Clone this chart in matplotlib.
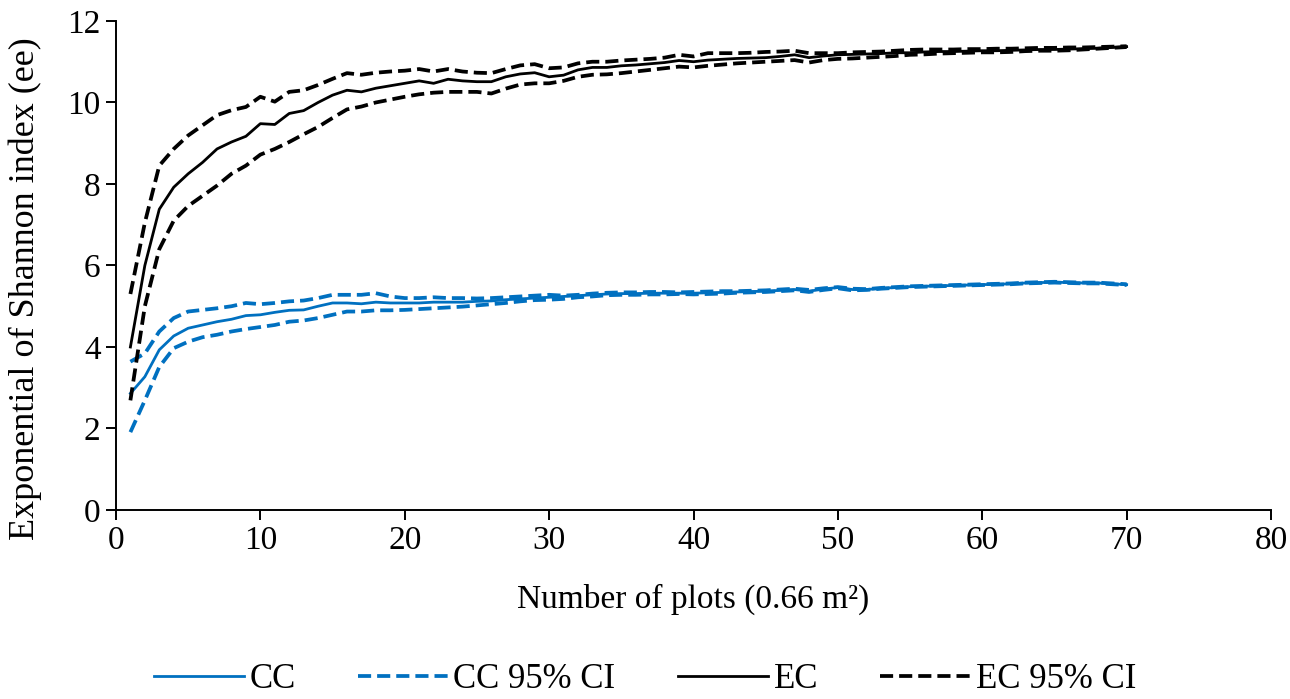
import matplotlib
matplotlib.use("Agg")
import matplotlib.pyplot as plt

plt.rcParams["font.family"] = ["Liberation Serif", "DejaVu Serif"]

# number of plots sampled
plots = list(range(1, 71))

ec_mean = [4.00, 6.00, 7.38, 7.92, 8.25, 8.53, 8.86, 9.03, 9.17, 9.48,
           9.46, 9.73, 9.80, 10.00, 10.18, 10.30, 10.26, 10.35, 10.41, 10.47,
           10.53, 10.47, 10.57, 10.53, 10.51, 10.51, 10.63, 10.70, 10.73, 10.63,
           10.67, 10.80, 10.86, 10.86, 10.90, 10.92, 10.95, 10.98, 11.03, 11.00,
           11.04, 11.06, 11.08, 11.09, 11.10, 11.13, 11.17, 11.10, 11.14, 11.17,
           11.18, 11.19, 11.20, 11.22, 11.22, 11.24, 11.25, 11.25, 11.26, 11.27,
           11.27, 11.28, 11.29, 11.30, 11.30, 11.31, 11.32, 11.33, 11.35, 11.37]
ec_upper = [5.30, 7.05, 8.45, 8.86, 9.19, 9.44, 9.69, 9.81, 9.89, 10.14,
            10.02, 10.26, 10.30, 10.43, 10.58, 10.72, 10.68, 10.73, 10.76, 10.78,
            10.82, 10.76, 10.82, 10.76, 10.73, 10.72, 10.82, 10.91, 10.94, 10.84,
            10.86, 10.96, 11.00, 11.00, 11.03, 11.05, 11.07, 11.10, 11.17, 11.13,
            11.21, 11.21, 11.21, 11.22, 11.24, 11.25, 11.27, 11.21, 11.21, 11.21,
            11.23, 11.24, 11.25, 11.27, 11.29, 11.30, 11.30, 11.30, 11.31, 11.31,
            11.32, 11.32, 11.33, 11.34, 11.34, 11.35, 11.35, 11.36, 11.37, 11.38]
ec_lower = [2.69, 5.00, 6.40, 7.10, 7.46, 7.71, 7.96, 8.25, 8.45, 8.72,
            8.86, 9.03, 9.22, 9.40, 9.62, 9.83, 9.90, 10.00, 10.07, 10.14,
            10.20, 10.24, 10.26, 10.26, 10.26, 10.22, 10.34, 10.44, 10.47, 10.47,
            10.53, 10.63, 10.68, 10.69, 10.72, 10.76, 10.80, 10.84, 10.88, 10.86,
            10.90, 10.93, 10.96, 10.98, 11.00, 11.02, 11.04, 10.98, 11.04, 11.07,
            11.08, 11.10, 11.12, 11.14, 11.17, 11.18, 11.20, 11.21, 11.22, 11.23,
            11.23, 11.24, 11.26, 11.27, 11.27, 11.28, 11.30, 11.32, 11.34, 11.36]

cc_mean = [2.86, 3.27, 3.93, 4.27, 4.46, 4.54, 4.62, 4.68, 4.77, 4.79,
           4.85, 4.90, 4.91, 5.00, 5.08, 5.08, 5.06, 5.10, 5.08, 5.08,
           5.08, 5.10, 5.10, 5.10, 5.12, 5.13, 5.16, 5.18, 5.20, 5.22,
           5.24, 5.26, 5.28, 5.30, 5.31, 5.31, 5.32, 5.32, 5.32, 5.32,
           5.33, 5.34, 5.35, 5.36, 5.37, 5.39, 5.41, 5.37, 5.42, 5.46,
           5.41, 5.41, 5.44, 5.46, 5.48, 5.49, 5.50, 5.51, 5.52, 5.53,
           5.54, 5.55, 5.57, 5.58, 5.59, 5.58, 5.57, 5.57, 5.55, 5.53]
cc_upper = [3.64, 3.84, 4.38, 4.71, 4.87, 4.91, 4.95, 5.00, 5.08, 5.05,
            5.08, 5.12, 5.14, 5.20, 5.28, 5.28, 5.28, 5.32, 5.24, 5.20,
            5.20, 5.22, 5.20, 5.20, 5.19, 5.20, 5.22, 5.24, 5.26, 5.28,
            5.26, 5.28, 5.31, 5.33, 5.34, 5.34, 5.35, 5.35, 5.34, 5.35,
            5.36, 5.37, 5.37, 5.38, 5.39, 5.41, 5.43, 5.40, 5.44, 5.47,
            5.43, 5.42, 5.45, 5.47, 5.49, 5.50, 5.51, 5.52, 5.53, 5.54,
            5.55, 5.56, 5.58, 5.59, 5.60, 5.59, 5.58, 5.58, 5.56, 5.54]
cc_lower = [1.91, 2.69, 3.51, 3.97, 4.13, 4.24, 4.30, 4.38, 4.44, 4.49,
            4.54, 4.62, 4.65, 4.71, 4.79, 4.87, 4.87, 4.90, 4.90, 4.91,
            4.93, 4.95, 4.97, 4.99, 5.02, 5.05, 5.08, 5.12, 5.15, 5.16,
            5.18, 5.22, 5.24, 5.27, 5.28, 5.28, 5.29, 5.29, 5.30, 5.29,
            5.30, 5.31, 5.33, 5.34, 5.35, 5.37, 5.39, 5.35, 5.40, 5.44,
            5.39, 5.40, 5.43, 5.45, 5.47, 5.48, 5.49, 5.50, 5.51, 5.52,
            5.53, 5.54, 5.56, 5.57, 5.58, 5.57, 5.56, 5.56, 5.54, 5.52]

blue = "#0070C0"
dash = (0, (3.5, 1.6))

fig = plt.figure(figsize=(12.9, 6.99), dpi=100)
ax = fig.add_axes([0.0899, 0.2704, 0.8954, 0.6996])

ax.plot(plots, cc_mean, color=blue, lw=2.0, label="CC")
ax.plot(plots, cc_upper, color=blue, lw=2.7, ls=dash, label="CC 95% CI")
ax.plot(plots, cc_lower, color=blue, lw=2.7, ls=dash)
ax.plot(plots, ec_mean, color="black", lw=2.0, label="EC")
ax.plot(plots, ec_upper, color="black", lw=2.7, ls=dash, label="EC 95% CI")
ax.plot(plots, ec_lower, color="black", lw=2.7, ls=dash)

ax.set_xlim(0, 80)
ax.set_ylim(0, 12)
ax.set_xticks(range(0, 81, 10))
ax.set_yticks(range(0, 13, 2))
for s in ["top", "right"]:
    ax.spines[s].set_visible(False)
for s in ["left", "bottom"]:
    ax.spines[s].set_linewidth(1.4)
ax.tick_params(direction="out", length=7, width=1.4, labelsize=24, pad=4)

ax.set_xlabel("Number of plots (0.66 m\u00b2)", fontsize=24, labelpad=20)
ax.set_ylabel("Exponential of Shannon index (ee)", fontsize=26)
ax.yaxis.set_label_coords(-0.064, 0.452)

fig.legend(loc="lower center", bbox_to_anchor=(0.5, -0.04), ncol=4,
           frameon=False, fontsize=25, handlelength=2.6, handletextpad=0.15,
           columnspacing=1.8)

fig.savefig("out.png", dpi=100)
